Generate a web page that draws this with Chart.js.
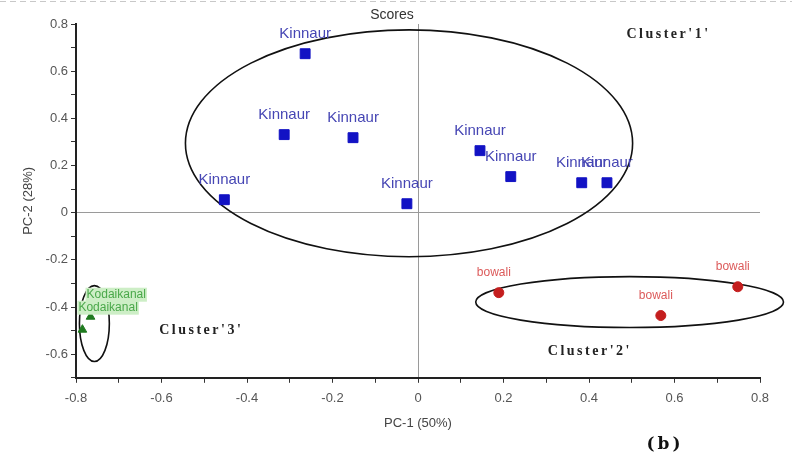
<!DOCTYPE html>
<html>
<head>
<meta charset="utf-8">
<script src="https://cdn.jsdelivr.net/npm/chart.js@4"></script>
<style>
    html, body { margin: 0; padding: 0; background: #fff; }
    #wrap { width: 792px; height: 467px; }
</style>
</head>
<body>
<div id="wrap"><canvas id="scoresChart"></canvas></div>
<script>
// PCA scores
const kinnaurX = [-0.264, -0.313, -0.152, -0.453, -0.026, 0.145, 0.217, 0.383, 0.442];
const kinnaurY = [0.674, 0.331, 0.318, 0.055, 0.038, 0.263, 0.153, 0.127, 0.127];
const bowaliX = [0.189, 0.568, 0.748];
const bowaliY = [-0.339, -0.436, -0.314];
const kodaiX = [-0.766, -0.785];
const kodaiY = [-0.441, -0.496];

const seriesNames = ["Kinnaur", "bowali", "Kodaikanal"];

// cluster ellipses (centre + radii, in data units) and their captions
const clusterNames = ["Cluster'1'", "Cluster'2'", "Cluster'3'"];
const clusterCx = [-0.021, 0.495, -0.757];
const clusterCy = [0.294, -0.379, -0.470];
const clusterRx = [0.523, 0.360, 0.035];
const clusterRy = [0.481, 0.108, 0.161];
const captionX = [0.586, 0.402, -0.507];
const captionY = [0.755, -0.589, -0.50];

// axis ticks
const xTicks = [-0.8, -0.6, -0.4, -0.2, 0, 0.2, 0.4, 0.6, 0.8];
const xTickLabels = ["-0.8", "-0.6", "-0.4", "-0.2", "0", "0.2", "0.4", "0.6", "0.8"];
const xMinor = [-0.7, -0.5, -0.3, -0.1, 0.1, 0.3, 0.5, 0.7];
const yTicks = [-0.6, -0.4, -0.2, 0, 0.2, 0.4, 0.6, 0.8];
const yTickLabels = ["-0.6", "-0.4", "-0.2", "0", "0.2", "0.4", "0.6", "0.8"];
const yMinor = [-0.7, -0.5, -0.3, -0.1, 0.1, 0.3, 0.5, 0.7];

const FONT = "'Liberation Sans', Arial, sans-serif";

function toPoints(xs, ys) {
    return xs.map((x, i) => ({ x: x, y: ys[i] }));
}

function tickLabel(value, ticks, labels) {
    const i = ticks.findIndex(t => Math.abs(t - value) < 1e-6);
    return i >= 0 ? labels[i] : "";
}

// label style per series
const labelStyle = {
    Kinnaur: { color: "#4646b4", size: 15, align: "center", dx: 0, dy: -20 },
    bowali: { color: "#dc5a5a", size: 12, align: "center", dx: -5, dy: -20 },
    Kodaikanal: { color: "#4aa84a", size: 12, align: "left", dx: -4, dy: -22, bg: "#cdeec6" }
};

const clusterPlugin = {
    id: "clusters",
    beforeDatasetsDraw(chart) {
        const { ctx, scales: { x, y } } = chart;
        ctx.save();
        ctx.strokeStyle = "#111";
        ctx.lineWidth = 1.6;
        clusterCx.forEach((cx, i) => {
            const px = x.getPixelForValue(cx);
            const py = y.getPixelForValue(clusterCy[i]);
            const rx = Math.abs(x.getPixelForValue(cx + clusterRx[i]) - px);
            const ry = Math.abs(y.getPixelForValue(clusterCy[i] + clusterRy[i]) - py);
            ctx.beginPath();
            ctx.ellipse(px, py, rx, ry, 0, 0, Math.PI * 2);
            ctx.stroke();
        });
        ctx.restore();
    },
    afterDatasetsDraw(chart) {
        const { ctx, scales: { x, y } } = chart;
        ctx.save();
        // point names
        chart.data.datasets.forEach((ds, di) => {
            const st = labelStyle[ds.label];
            ctx.font = st.size + "px " + FONT;
            ctx.textAlign = st.align;
            ctx.textBaseline = "middle";
            chart.getDatasetMeta(di).data.forEach(pt => {
                const tx = pt.x + st.dx, ty = pt.y + st.dy;
                if (st.bg) {
                    const w = ctx.measureText(ds.label).width;
                    ctx.fillStyle = st.bg;
                    ctx.fillRect(tx - 1, ty - 7, w + 2, 14);
                }
                ctx.fillStyle = st.color;
                ctx.fillText(ds.label, tx, ty);
            });
        });
        // cluster captions
        ctx.font = "bold 14px 'Liberation Serif', 'Times New Roman', serif";
        ctx.letterSpacing = "2.5px";
        ctx.fillStyle = "#222";
        ctx.textAlign = "center";
        clusterNames.forEach((name, i) => {
            ctx.fillText(name, x.getPixelForValue(captionX[i]), y.getPixelForValue(captionY[i]));
        });
        ctx.restore();
    },
    afterDraw(chart) {
        const { ctx } = chart;
        ctx.save();
        ctx.fillStyle = "#333";
        ctx.font = "14px " + FONT;
        ctx.textAlign = "center";
        ctx.textBaseline = "middle";
        ctx.fillText("Scores", 392, 15);
        ctx.font = "bold 17px 'DejaVu Serif', serif";
        ctx.letterSpacing = "3px";
        ctx.fillStyle = "#111";
        ctx.fillText("(b)", 665, 445);
        // faint dashed line along the top edge
        ctx.letterSpacing = "0px";
        ctx.strokeStyle = "#c8c8c8";
        ctx.setLineDash([6, 4]);
        ctx.lineWidth = 1;
        ctx.beginPath();
        ctx.moveTo(0, 1.5);
        ctx.lineTo(792, 1.5);
        ctx.stroke();
        ctx.restore();
    }
};

const ctx = document.getElementById("scoresChart").getContext("2d");
new Chart(ctx, {
    type: "scatter",
    data: {
        datasets: [
            {
                label: seriesNames[0],
                data: toPoints(kinnaurX, kinnaurY),
                pointStyle: "rect",
                pointRadius: 7,
                backgroundColor: "#1212c4",
                borderColor: "#1212c4"
            },
            {
                label: seriesNames[1],
                data: toPoints(bowaliX, bowaliY),
                pointStyle: "circle",
                pointRadius: 5,
                backgroundColor: "#c41e1e",
                borderColor: "#c41e1e"
            },
            {
                label: seriesNames[2],
                data: toPoints(kodaiX, kodaiY),
                pointStyle: "triangle",
                pointRadius: 5,
                backgroundColor: "#1f7a1f",
                borderColor: "#1f7a1f"
            }
        ]
    },
    options: {
        responsive: true,
        maintainAspectRatio: false,
        animation: false,
        layout: { padding: { left: 21, right: 32, top: 24, bottom: 36 } },
        plugins: {
            legend: { display: false },
            tooltip: { enabled: false }
        },
        scales: {
            x: {
                type: "linear",
                min: -0.8,
                max: 0.8,
                afterBuildTicks: s => {
                    s.ticks = [...xTicks, ...xMinor].sort((a, b) => a - b).map(v => ({ value: v }));
                },
                ticks: {
                    autoSkip: false,
                    maxRotation: 0,
                    padding: 8,
                    color: "#555",
                    font: { family: FONT, size: 13 },
                    callback: v => tickLabel(v, xTicks, xTickLabels)
                },
                grid: {
                    color: c => (c.tick && c.tick.value === 0 ? "#9a9a9a" : "transparent"),
                    tickColor: "#333",
                    tickLength: 5,
                    lineWidth: 1
                },
                border: { color: "#222", width: 2 },
                title: {
                    display: true,
                    text: "PC-1 (50%)",
                    color: "#444",
                    font: { family: FONT, size: 13 },
                    padding: { top: 1, bottom: 0 }
                }
            },
            y: {
                type: "linear",
                min: -0.7,
                max: 0.8,
                afterBuildTicks: s => {
                    s.ticks = [...yTicks, ...yMinor].sort((a, b) => a - b).map(v => ({ value: v }));
                },
                afterFit: s => { s.width = 55; },
                ticks: {
                    autoSkip: false,
                    padding: 3,
                    color: "#555",
                    font: { family: FONT, size: 13 },
                    callback: v => tickLabel(v, yTicks, yTickLabels)
                },
                grid: {
                    color: c => (c.tick && c.tick.value === 0 ? "#9a9a9a" : "transparent"),
                    tickColor: "#333",
                    tickLength: 5,
                    lineWidth: 1
                },
                border: { color: "#222", width: 2 },
                title: {
                    display: true,
                    text: "PC-2 (28%)",
                    color: "#444",
                    font: { family: FONT, size: 13 },
                    padding: { top: 0, bottom: 4 }
                }
            }
        }
    },
    plugins: [clusterPlugin]
});
</script>
</body>
</html>
